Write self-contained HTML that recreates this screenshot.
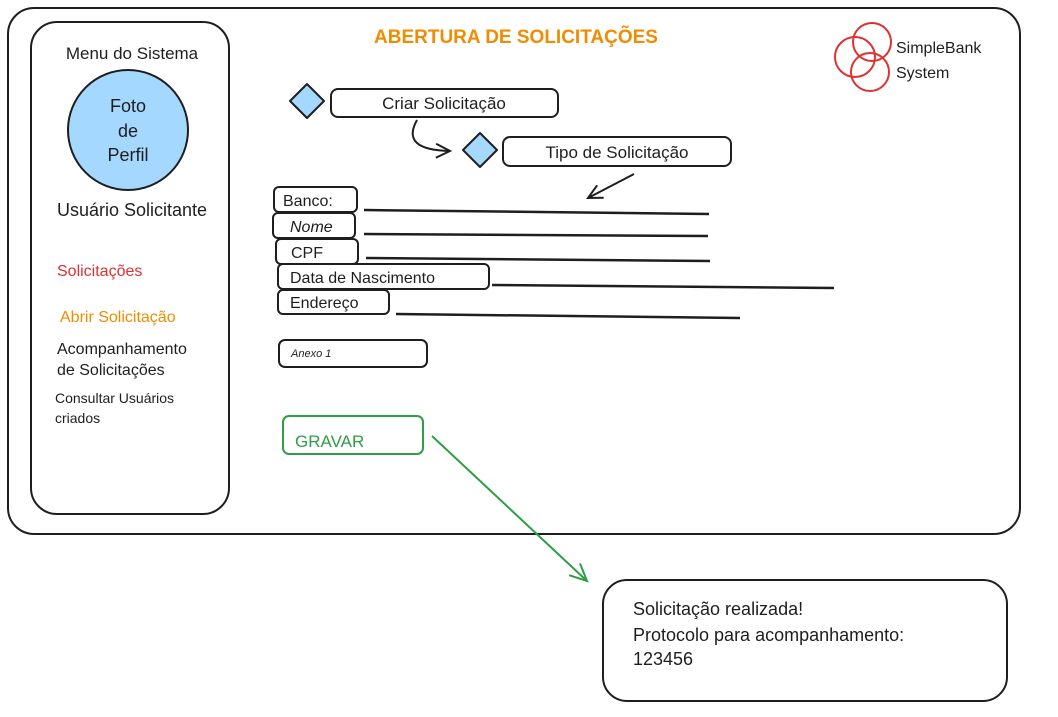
<!DOCTYPE html>
<html><head><meta charset="utf-8"><style>
html,body{margin:0;padding:0;background:#fff;}
svg{display:block;font-family:"Liberation Sans",sans-serif;}
</style></head><body>
<svg width="1058" height="717" viewBox="0 0 1058 717" xmlns="http://www.w3.org/2000/svg">
<defs>
<marker id="ak" markerWidth="20" markerHeight="20" refX="16" refY="10" orient="auto" markerUnits="userSpaceOnUse"><path d="M2,3 L16,10 L2,17" fill="none" stroke="#1e1e1e" stroke-width="2"/></marker>
<marker id="ag" markerWidth="24" markerHeight="24" refX="20" refY="12" orient="auto" markerUnits="userSpaceOnUse"><path d="M3,4 L20,12 L3,20" fill="none" stroke="#2f9e44" stroke-width="2"/></marker>
</defs>
<g fill="none" stroke="#1e1e1e" stroke-width="2">
<rect x="8" y="8" width="1012" height="526" rx="26"/>
<rect x="31" y="22" width="198" height="492" rx="26"/>
<rect x="331" y="89" width="227" height="28" rx="7"/>
<rect x="503" y="137" width="228" height="29" rx="7"/>
<rect x="274" y="187" width="83" height="25" rx="5"/>
<rect x="273" y="213" width="82" height="25" rx="5"/>
<rect x="276" y="239" width="82" height="25" rx="5"/>
<rect x="278" y="264" width="211" height="25" rx="5"/>
<rect x="278" y="290" width="111" height="24" rx="5"/>
<rect x="279" y="340" width="148" height="27" rx="6"/>
<rect x="603" y="580" width="404" height="121" rx="24"/>
<g stroke-width="2.5">
<line x1="364" y1="210" x2="709" y2="214"/>
<line x1="364" y1="234" x2="708" y2="236"/>
<line x1="366" y1="258" x2="710" y2="261"/>
<line x1="492" y1="285" x2="834" y2="288"/>
<line x1="396" y1="314" x2="740" y2="318"/>
</g>
<path d="M417,120 Q400,150 450,151" marker-end="url(#ak)"/>
<line x1="634" y1="174" x2="588" y2="198" marker-end="url(#ak)"/>
</g>
<circle cx="128" cy="130" r="60" fill="#a5d8ff" stroke="#1e1e1e" stroke-width="2"/>
<path d="M307,84 L324,101 L307,118 L290,101 Z" fill="#a5d8ff" stroke="#1e1e1e" stroke-width="2" stroke-linejoin="round"/>
<path d="M480,133 L497,150 L480,167 L463,150 Z" fill="#a5d8ff" stroke="#1e1e1e" stroke-width="2" stroke-linejoin="round"/>
<g fill="none" stroke="#e03131" stroke-width="2">
<circle cx="855" cy="57" r="20"/><circle cx="872" cy="42" r="19"/><circle cx="870" cy="72" r="19"/>
</g>
<rect x="283" y="416" width="140" height="38" rx="6" fill="none" stroke="#2f9e44" stroke-width="2"/>
<line x1="432" y1="436" x2="587" y2="581" stroke="#2f9e44" stroke-width="2" marker-end="url(#ag)"/>
<g fill="#1e1e1e" font-size="17">
<text x="132" y="59" text-anchor="middle">Menu do Sistema</text>
<text x="128" y="112" text-anchor="middle" font-size="18">Foto</text>
<text x="128" y="137" text-anchor="middle" font-size="18">de</text>
<text x="128" y="161" text-anchor="middle" font-size="18">Perfil</text>
<text x="132" y="216" text-anchor="middle" font-size="18">Usuário Solicitante</text>
<text x="57" y="276" fill="#e03131" font-size="16">Solicitações</text>
<text x="60" y="322" fill="#f08c00" font-size="16">Abrir Solicitação</text>
<text x="57" y="354" font-size="16">Acompanhamento</text>
<text x="57" y="375" font-size="16">de Solicitações</text>
<text x="55" y="403" font-size="14">Consultar Usuários</text>
<text x="55" y="423" font-size="14">criados</text>
<text x="516" y="43" text-anchor="middle" fill="#f08c00" font-size="19" font-weight="600">ABERTURA DE SOLICITAÇÕES</text>
<text x="896" y="53" font-size="16">SimpleBank</text>
<text x="896" y="78" font-size="16">System</text>
<text x="444" y="109" text-anchor="middle">Criar Solicitação</text>
<text x="617" y="158" text-anchor="middle">Tipo de Solicitação</text>
<text x="283" y="206" font-size="16">Banco:</text>
<text x="290" y="232" font-size="16" font-style="italic">Nome</text>
<text x="291" y="258" font-size="16">CPF</text>
<text x="290" y="283" font-size="16">Data de Nascimento</text>
<text x="290" y="308" font-size="16">Endereço</text>
<text x="291" y="357" font-size="11" font-style="italic">Anexo 1</text>
<text x="295" y="447" fill="#2f9e44">GRAVAR</text>
<text x="633" y="615" font-size="18">Solicitação realizada!</text>
<text x="633" y="641" font-size="18">Protocolo para acompanhamento:</text>
<text x="633" y="665" font-size="18">123456</text>
</g>
</svg>
</body></html>
